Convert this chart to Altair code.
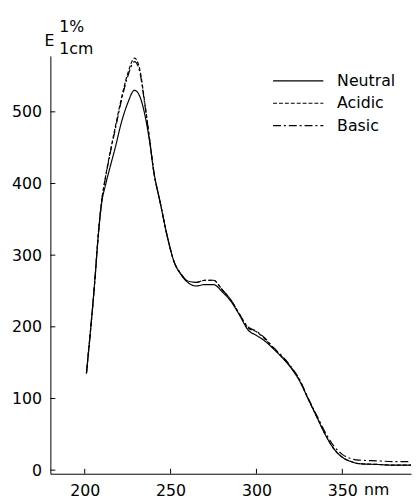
import altair as alt
import pandas as pd

wavelength = [201, 206, 208, 210, 212, 215, 218, 221, 225, 229, 232, 235, 238, 240, 244, 248, 252,
              256, 260, 265, 270, 275, 280, 285, 290, 295, 300, 305, 310, 315, 320, 325, 330,
              335, 340, 345, 350, 355, 360, 370, 380, 390]
neutral = [135, 268, 330, 375, 397, 425, 452, 482, 512, 530, 522, 496, 455, 420, 373, 327, 291,
           273, 262, 257, 259, 259, 249, 236, 217, 196, 188, 180, 169, 157, 143, 125, 100,
           75, 50, 30, 18, 12, 9, 8, 7, 7]
acidic = [135, 268, 332, 378, 408, 446, 481, 515, 553, 575, 560, 512, 458, 420, 373, 327, 291,
          274, 264, 262, 265, 265, 252, 238, 218, 199, 193, 183, 170, 158, 144, 126, 100,
          75, 50, 30, 18, 12, 9, 8, 7, 7]
basic = [135, 268, 332, 378, 407, 444, 478, 512, 549, 570, 556, 510, 457, 420, 373, 327, 291,
         274, 264, 262, 265, 265, 252, 238, 218, 200, 194, 184, 171, 159, 145, 127, 101,
         77, 53, 34, 22, 16, 14, 13, 12, 12]

series_order = ["Neutral", "Acidic", "Basic"]
dash_patterns = [[1, 0], [4, 2], [8, 3, 2, 3]]
y_ticks = [0, 100, 200, 300, 400, 500]
x_ticks = [200, 250, 300, 350]

rows = []
for name, vals in zip(series_order, [neutral, acidic, basic]):
    for w, v in zip(wavelength, vals):
        rows.append({"wavelength": w, "E": v, "series": name})
df = pd.DataFrame(rows)

W, H = 366, 424
xscale = alt.Scale(domain=[180, 390], nice=False, zero=False)
yscale = alt.Scale(domain=[-5, 578], nice=False, zero=False)
dash = alt.StrokeDash("series:N", scale=alt.Scale(domain=series_order, range=dash_patterns), legend=None)

font = "DejaVu Sans"

lines = alt.Chart(df).mark_line(color="black", strokeWidth=1.2, interpolate="monotone").encode(
    x=alt.X("wavelength:Q", scale=xscale,
            axis=alt.Axis(values=x_ticks, ticks=False, grid=False, title=None, labelFontSize=16,
                          labelFont=font, labelColor="black", domainColor="black", labelPadding=9)),
    y=alt.Y("E:Q", scale=yscale,
            axis=alt.Axis(values=y_ticks, ticks=False, grid=False, title=None, labelFontSize=16,
                          labelFont=font, labelColor="black", domainColor="black", labelPadding=9)),
    strokeDash=dash,
    detail="series:N",
)

ytick_df = pd.DataFrame({"v": y_ticks})
yt = alt.Chart(ytick_df).mark_rule(color="black", strokeWidth=1).encode(
    y=alt.Y("v:Q", scale=yscale, axis=None), x=alt.value(0), x2=alt.value(5))
xtick_df = pd.DataFrame({"v": x_ticks})
xt = alt.Chart(xtick_df).mark_rule(color="black", strokeWidth=1).encode(
    x=alt.X("v:Q", scale=xscale), y=alt.value(H), y2=alt.value(H - 5))

nm = alt.Chart(pd.DataFrame({"v": [350], "t": ["nm"]})).mark_text(
    font=font, fontSize=16, align="left", baseline="top", dx=22, color="black").encode(
    x=alt.X("v:Q", scale=xscale), y=alt.value(H + 9), text="t:N")

legend_df = pd.DataFrame({"series": series_order})
leg_y = alt.Y("series:N", sort=series_order, scale=alt.Scale(domain=series_order, range=[14, 82]), axis=None)
leg_lines = alt.Chart(legend_df).mark_rule(color="black", strokeWidth=1.2).encode(
    x=alt.value(226), x2=alt.value(277), y=leg_y, strokeDash=dash)
leg_text = alt.Chart(legend_df).mark_text(font=font, fontSize=16, align="left", baseline="middle",
                                          color="black").encode(
    x=alt.value(291), y=leg_y, text="series:N")

title_df = pd.DataFrame({"t": ["E", "1%", "1cm"], "px": [-6, 9, 9], "py": [-10, -24, -2]})
title_parts = []
for t, px, py in zip(title_df.t, title_df.px, title_df.py):
    title_parts.append(alt.Chart(pd.DataFrame({"t": [t]})).mark_text(
        font=font, fontSize=16, align="left", baseline="alphabetic", color="black").encode(
        x=alt.value(int(px)), y=alt.value(int(py)), text="t:N"))

chart = alt.layer(lines, yt, xt, nm, alt.layer(leg_lines, leg_text), *title_parts).resolve_scale(
    y="independent").properties(
    width=W, height=H,
    autosize=alt.AutoSizeParams(type="none"),
    padding={"left": 43, "top": 45, "right": 1, "bottom": 23},
).configure_view(stroke=None).configure_axis(domainWidth=1)

chart.save("out.html", embed_options={"renderer": "svg", "actions": False})
